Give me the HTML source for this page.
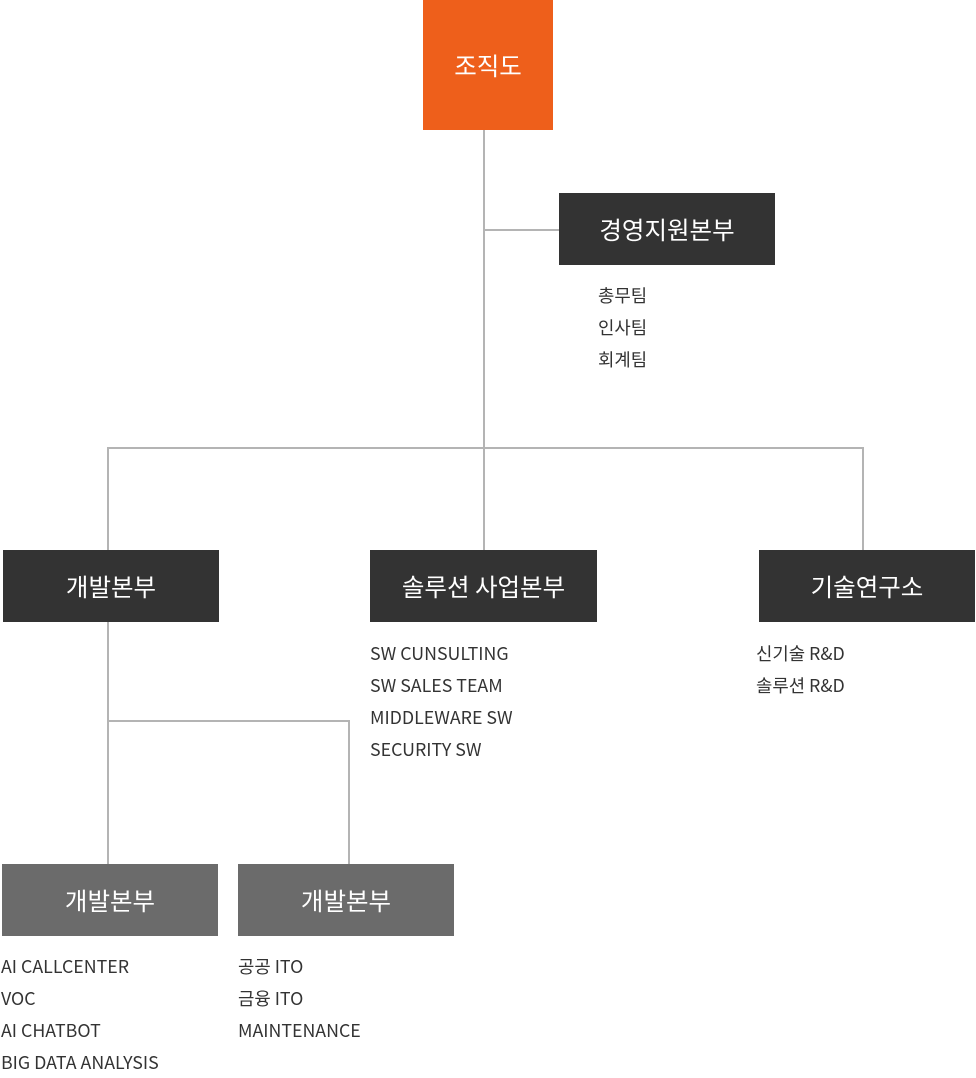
<!DOCTYPE html>
<html><head><meta charset="utf-8"><style>
body{margin:0;width:976px;height:1069px;background:#fff;position:relative;overflow:hidden;font-family:"Noto Sans CJK KR","Liberation Sans",sans-serif;}
.b{position:absolute;color:#fff;display:flex;align-items:center;justify-content:center;font-size:24.5px;}
.d{background:#333;}
.g{background:#6b6b6b;}
.l{position:absolute;background:#b4b4b4;}
.t{position:absolute;font-size:17.8px;color:#333;line-height:32px;white-space:nowrap;}
</style></head><body>
<div class="l" style="left:483px;top:130px;width:2px;height:420px"></div>
<div class="l" style="left:484px;top:229px;width:75px;height:2px"></div>
<div class="l" style="left:107px;top:447px;width:757px;height:2px"></div>
<div class="l" style="left:107px;top:447px;width:2px;height:103px"></div>
<div class="l" style="left:862px;top:447px;width:2px;height:103px"></div>
<div class="l" style="left:107px;top:622px;width:2px;height:242px"></div>
<div class="l" style="left:107px;top:720px;width:243px;height:2px"></div>
<div class="l" style="left:348px;top:720px;width:2px;height:144px"></div>
<div class="b" style="left:423px;top:0;width:130px;height:130px;background:#ee5f1b">조직도</div>
<div class="b d" style="left:559px;top:193px;width:216px;height:72px">경영지원본부</div>
<div class="t" style="left:598px;top:279px">총무팀<br>인사팀<br>회계팀</div>
<div class="b d" style="left:3px;top:550px;width:216px;height:72px">개발본부</div>
<div class="b d" style="left:370px;top:550px;width:227px;height:72px">솔루션 사업본부</div>
<div class="b d" style="left:759px;top:550px;width:216px;height:72px">기술연구소</div>
<div class="t" style="left:370px;top:637px">SW CUNSULTING<br>SW SALES TEAM<br>MIDDLEWARE SW<br>SECURITY SW</div>
<div class="t" style="left:756px;top:637px">신기술 R&amp;D<br>솔루션 R&amp;D</div>
<div class="b g" style="left:2px;top:864px;width:216px;height:72px">개발본부</div>
<div class="b g" style="left:238px;top:864px;width:216px;height:72px">개발본부</div>
<div class="t" style="left:1px;top:950px">AI CALLCENTER<br>VOC<br>AI CHATBOT<br>BIG DATA ANALYSIS</div>
<div class="t" style="left:238px;top:950px">공공 ITO<br>금융 ITO<br>MAINTENANCE</div>
</body></html>
